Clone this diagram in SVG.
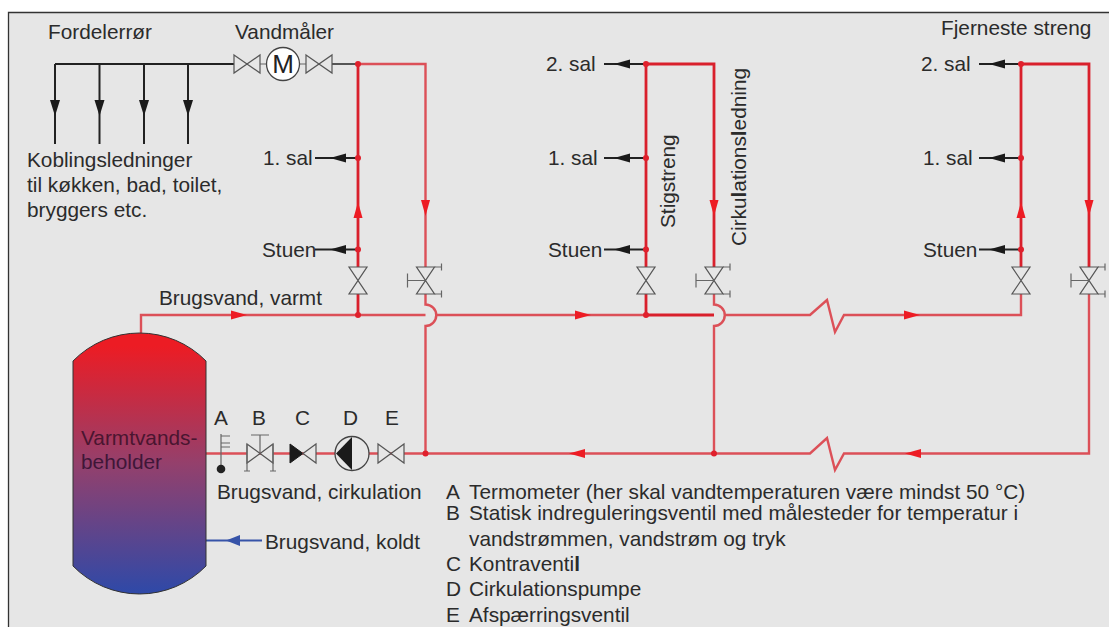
<svg xmlns="http://www.w3.org/2000/svg" width="1109" height="627" viewBox="0 0 1109 627">
<defs>
<linearGradient id="tank" x1="0" y1="0" x2="0" y2="1"><stop offset="0.05" stop-color="#ec1c24"/><stop offset="0.5" stop-color="#94406c"/><stop offset="1" stop-color="#2e49a8"/></linearGradient>
<g id="riservalve"><path class="val" d="M-9 -13.500 H9 L-9 13.500 H9 Z"/></g>
<g id="retvalve"><path class="val" d="M-9 -13.500 H9 L-9 13.500 H9 Z"/><path class="thin" d="M0 0 H-18 M-18 -7 V7 M9 -13.500 H16 M16 -17 V-10 M9 13.500 H16 M16 10 V17"/></g>
<path id="dn" d="M-4.500 -8 H4.500 L0 8 Z" fill="#ed1c24"/>
<path id="up" d="M-4.500 8 H4.500 L0 -8 Z" fill="#ed1c24"/>
<path id="rt" d="M-8 -4.500 L8 0 L-8 4.500 Z" fill="#ed1c24"/>
<path id="lf" d="M8 -4.500 L-8 0 L8 4.500 Z" fill="#ed1c24"/>
<path id="bkl" d="M8 -4.500 L-8 0 L8 4.500 Z" fill="#1a1a1a"/>
<path id="bkd" d="M-5 -8 H5 L0 8 Z" fill="#1a1a1a"/>
</defs>
<style>
text{font-family:"Liberation Sans",Arial,sans-serif;font-size:20.800px;fill:#2b2b2b}
.val{fill:#e6e6e6;stroke:#555;stroke-width:1.200}
.thin{fill:none;stroke:#666;stroke-width:1.200}
.pipe{fill:none;stroke:#dc5058;stroke-width:2.400}
.bold{fill:none;stroke:#d9202c;stroke-width:2.800}
.blk{fill:none;stroke:#222;stroke-width:2}
.dot{fill:#e0202c}
.b{font-weight:bold}
</style>
<rect x="0" y="0" width="1109" height="627" fill="#fff"/>
<rect x="8.500" y="12.500" width="1101" height="615" fill="#e6e6e6"/>
<path d="M8.500 627 V12.500 H1109" fill="none" stroke="#333" stroke-width="1.300"/>

<g id="connectors">
<path class="blk" d="M55 64 H234 M55 64 V144 M99.500 64 V144 M144 64 V144 M188 64 V144"/>
<use href="#bkd" x="55" y="108"/><use href="#bkd" x="99.500" y="108"/><use href="#bkd" x="144" y="108"/><use href="#bkd" x="188" y="108"/>
<path class="thin" d="M260 64 H267 M299 64 H306"/>
<path d="M332 64 H358" stroke="#555" stroke-width="2" fill="none"/>

<path class="bold" d="M358 64 V267 M358 294 V315"/>
<path class="pipe" d="M358 64 H425.500 V267"/>
<path class="pipe" d="M425.500 294 V304.500 A 10.500 10.500 0 0 1 425.500 326 V453.500"/>
<path class="pipe" d="M141 333 V315 H425.500"/>
<path class="pipe" d="M436 315 H646"/>
<path class="bold" d="M646 64 V267 M646 294 V315 M646 315 H714"/>
<path class="bold" d="M646 64 H714 V267"/>
<path class="pipe" d="M714 294 V304.500 A 10.500 10.500 0 0 1 714 326 V453.500"/>
<path class="pipe" d="M725 315 H810 L827 300 L835 332 L844 315 H1021 V294"/>
<path class="bold" d="M1021 267 V64 H1089 V267"/>
<path class="pipe" d="M1089 294 V453.500 H844 L835 470 L827 438 L810 453.500 H206"/>

<path stroke="#3653a8" stroke-width="2" fill="none" d="M206 540.500 H262"/>
<path d="M226 540.500 L240 535 V546 Z" fill="#3653a8"/>

<use href="#up" x="358" y="210"/><use href="#dn" x="425.500" y="208"/>
<use href="#dn" x="714" y="208"/>
<use href="#up" x="1021" y="210"/><use href="#dn" x="1089" y="208"/>
<use href="#rt" x="239" y="315"/><use href="#rt" x="583" y="315"/><use href="#rt" x="912" y="315"/>
<use href="#lf" x="913" y="453.500"/><use href="#lf" x="577" y="453.500"/>

<path class="blk" d="M315 158 H358 M315 249.500 H358 M604 64 H646 M604 158 H646 M604 249.500 H646 M979 64 H1021 M979 158 H1021 M979 249.500 H1021"/>
<use href="#bkl" x="338" y="158"/><use href="#bkl" x="338" y="249.500"/>
<use href="#bkl" x="622" y="64"/><use href="#bkl" x="622" y="158"/><use href="#bkl" x="622" y="249.500"/>
<use href="#bkl" x="997" y="64"/><use href="#bkl" x="997" y="158"/><use href="#bkl" x="997" y="249.500"/>

<g class="dot">
<circle cx="358" cy="64" r="3"/><circle cx="358" cy="158" r="3"/><circle cx="358" cy="249.500" r="3"/><circle cx="358" cy="315" r="3"/>
<circle cx="646" cy="64" r="3"/><circle cx="646" cy="158" r="3"/><circle cx="646" cy="249.500" r="3"/><circle cx="646" cy="315" r="3"/>
<circle cx="1021" cy="64" r="3"/><circle cx="1021" cy="158" r="3"/><circle cx="1021" cy="249.500" r="3"/>
<circle cx="425.500" cy="453.500" r="3"/><circle cx="714" cy="453.500" r="3"/>
</g>
</g>

<g id="tank-node">
<path d="M73 361 A 93 93 0 0 1 206 361 V566 A 93 93 0 0 1 73 566 Z" fill="url(#tank)" stroke="#333" stroke-width="1"/>
<text x="81" y="445" style="fill:#4a1530">Varmtvands-</text>
<text x="81" y="469" style="fill:#3f1638">beholder</text>
</g>

<g id="water-meter">
<path class="val" d="M234 55 L260 73 V55 L234 73 Z"/>
<circle cx="283" cy="64" r="16.500" fill="#fff" stroke="#444" stroke-width="1.300"/>
<text x="283" y="73" text-anchor="middle" style="font-size:26px;fill:#222">M</text>
<path class="val" d="M306 55 L332 73 V55 L306 73 Z"/>
</g>

<g id="valves-floor">
<use href="#riservalve" x="358" y="280.500"/><use href="#retvalve" x="425.500" y="280.500"/>
<use href="#riservalve" x="646" y="280.500"/><use href="#retvalve" x="714" y="280.500"/>
<use href="#riservalve" x="1021" y="280.500"/><use href="#retvalve" x="1089" y="280.500"/>
</g>

<g id="item-a"><path class="thin" d="M221 434 V468 M221 436 H230 M221 443 H230 M221 447 H230"/><circle cx="221" cy="469" r="4.300" fill="#222"/></g>
<g id="item-b"><path class="val" d="M247 444 L273 463 V444 L247 463 Z"/><path class="thin" d="M260 453.500 V435 M251 435 H269 M247 444 V471 M273 444 V471 M244 471 H250 M270 471 H276"/></g>
<g id="item-c"><path d="M290 444 L303 453.500 L290 463 Z" fill="#1a1a1a" stroke="#1a1a1a"/><path class="val" d="M303 453.500 L316 444 V463 Z"/></g>
<g id="item-d"><circle cx="352" cy="453.500" r="17" fill="#e6e6e6" stroke="#444" stroke-width="1.300"/><path d="M352 437 V470 L336 453.500 Z" fill="#1a1a1a"/></g>
<g id="item-e"><path class="val" d="M378 444 L404 463 V444 L378 463 Z"/></g>

<g id="labels">
<text x="48" y="39">Fordelerrør</text>
<text x="235" y="39">Vandmåler</text>
<text x="27" y="167">Koblingsledninger</text>
<text x="27" y="192">til køkken, bad, toilet,</text>
<text x="27" y="217">bryggers etc.</text>
<text x="263" y="165">1. sal</text>
<text x="262" y="257">Stuen</text>
<text x="159" y="305">Brugsvand, varmt</text>
<text x="546" y="71">2. sal</text>
<text x="548" y="165">1. sal</text>
<text x="548" y="257">Stuen</text>
<text x="921" y="71">2. sal</text>
<text x="923" y="165">1. sal</text>
<text x="923" y="257">Stuen</text>
<text x="941" y="35">Fjerneste streng</text>
<text transform="translate(675 228) rotate(-90)">Stigstreng</text>
<text transform="translate(746 246) rotate(-90)">Cirku<tspan class="b">l</tspan>ations<tspan class="b">l</tspan>edning</text>
<text x="214" y="425">A</text><text x="252" y="425">B</text><text x="295" y="425">C</text><text x="343" y="425">D</text><text x="385" y="425">E</text>
<text x="217" y="499">Brugsvand, cirkulation</text>
<text x="265" y="549">Brugsvand, koldt</text>
<text x="446" y="499">A</text><text x="469" y="499">Termometer (her skal vandtemperaturen være mindst 50 °C)</text>
<text x="446" y="520">B</text><text x="469" y="520">Statisk indreguleringsventil med målesteder for temperatur i</text>
<text x="469" y="546">vandstrømmen, vandstrøm og tryk</text>
<text x="446" y="571">C</text><text x="469" y="571">Kontraventi<tspan class="b">l</tspan></text>
<text x="446" y="596">D</text><text x="469" y="596">Cirkulationspumpe</text>
<text x="446" y="622">E</text><text x="469" y="622">Afspærringsventil</text>
</g>
</svg>
